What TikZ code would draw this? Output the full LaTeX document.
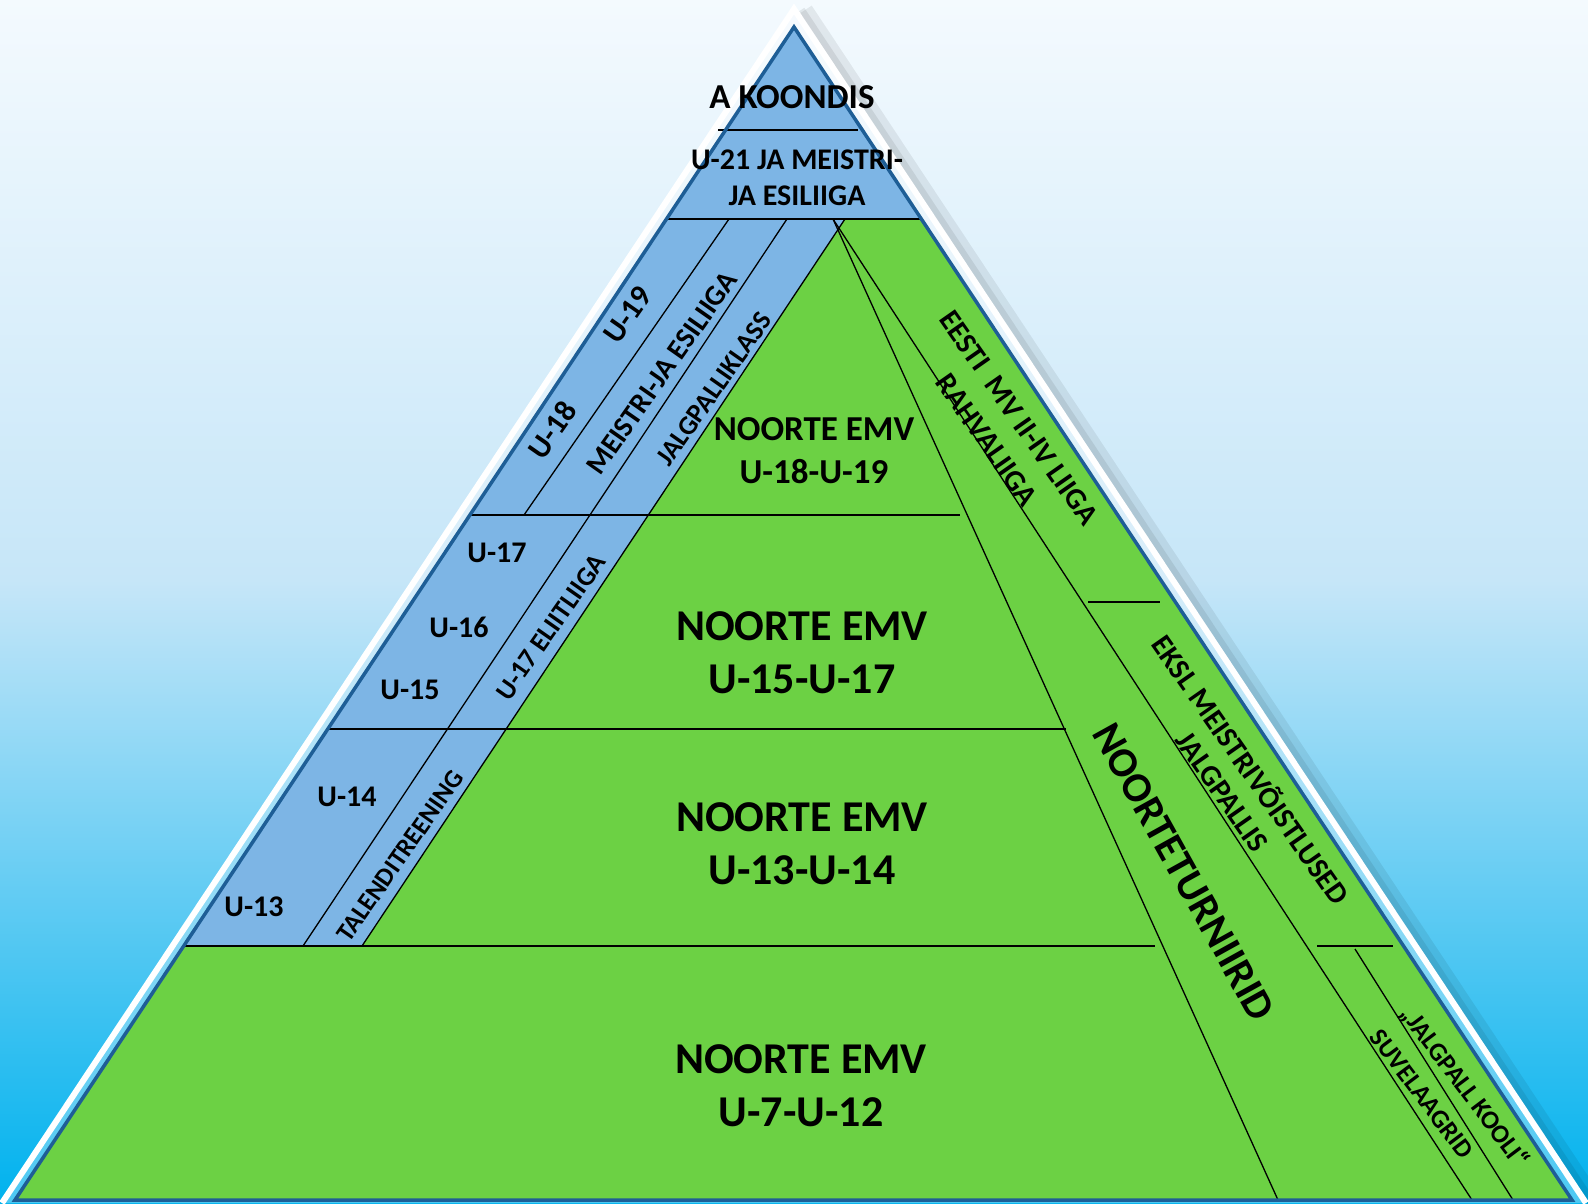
\documentclass[tikz,border=0pt]{standalone}
\usepackage{fontspec}
\setmainfont{Carlito}
\usepackage{tikz}

\definecolor{nentren}{RGB}{244,250,254}
\definecolor{nengiua}{RGB}{198,230,248}
\definecolor{nenduoi}{RGB}{120,200,242}
\definecolor{nenday}{RGB}{0,178,238}
\definecolor{xanhlam}{RGB}{125,181,229}
\definecolor{xanhla}{RGB}{108,209,68}
\definecolor{vienxanh}{RGB}{30,94,150}

\begin{document}
\begin{tikzpicture}[
    x=1pt, y=-1pt,
    every node/.style={inner sep=0pt, align=center},
    vach/.style={black, line width=1.3pt},
    chu/.style={font=\bfseries\fontsize{30}{36}\selectfont},
    chunho/.style={font=\bfseries\fontsize{27}{32}\selectfont},
    chuvua/.style={font=\bfseries\fontsize{35}{43}\selectfont},
    chulon/.style={font=\bfseries\fontsize{44}{53}\selectfont}
]
\useasboundingbox (0,0) rectangle (1588,1203);
\clip (0,0) rectangle (1588,1203);

% Nền chuyển màu
\shade[top color=nentren, bottom color=nengiua] (0,0) rectangle (1588,581);
\shade[top color=nengiua, middle color=nenduoi, bottom color=nenday] (0,580) rectangle (1588,1203);

% Viền trắng và bóng
\fill[white, opacity=0.3] (794,9) -- (2,1203) -- (1586,1203) -- cycle;
\draw[black, opacity=0.07, line width=16pt] (805,10) -- (1597,1204);
\draw[black, opacity=0.08, line width=8pt] (801,10) -- (1593,1204);
\draw[white, line width=6pt] (2,1203) -- (794,9) -- (1586,1203);

% Các khối màu
\fill[xanhlam] (794,27) -- (921.4,219) -- (845,219) -- (362,946) -- (184,946) -- cycle;
\fill[xanhla] (845,219) -- (921.4,219) -- (1572,1200) -- (15,1200) -- (184,946) -- (362,946) -- cycle;

% Các đường ngang
\draw[vach] (718,130) -- (858,130);
\draw[vach] (666.6,219) -- (921.4,219);
\draw[vach] (470,515) -- (960,515);
\draw[vach] (328,729) -- (1066,729);
\draw[vach] (184,946) -- (1155,946);
\draw[vach] (1088,602) -- (1160,602);
\draw[vach] (1317,946) -- (1393,946);

% Các đường xiên
\draw[vach] (729,219) -- (524,515);
\draw[vach] (787,219) -- (303,946);
\draw[vach] (845,219) -- (362,946);
\draw[vach] (833,219) -- (1278,1200);
\draw[vach] (833,219) -- (1472,1200);
\draw[vach] (1355,949) -- (1513,1200);

% Viền tam giác
\draw[vienxanh, line width=3.5pt] (794,27) -- (1572,1200) -- (15,1200) -- cycle;

% Đỉnh
\node[chuvua] (koondis) at (792,97) {A KOONDIS};
\node[chu] (u21) at (797,178) {U-21 JA MEISTRI-\\JA ESILIIGA};

% Dải xanh lam bên trái
\node[chu, font=\bfseries\fontsize{31}{36}\selectfont, rotate=55] (u19) at (628,315) {U-19};
\node[chu, font=\bfseries\fontsize{31}{36}\selectfont, rotate=55] (u18) at (552,430) {U-18};
\node[chu, font=\bfseries\fontsize{29}{34}\selectfont, rotate=55] (meistri) at (662,373) {MEISTRI-JA ESILIIGA};
\node[chunho, rotate=55] (klass) at (714,389) {JALGPALLIKLASS};
\node[chu] (u17) at (497,553) {U-17};
\node[chu] (u16) at (459,627) {U-16};
\node[chu] (u15) at (410,690) {U-15};
\node[chunho, rotate=55] (eliit) at (551,627) {U-17 ELIITLIIGA};
\node[chu] (u14) at (347,797) {U-14};
\node[chu] (u13) at (254,907) {U-13};
\node[chunho, font=\bfseries\fontsize{26}{30}\selectfont, rotate=55] (talent) at (400,856) {TALENDITREENING};

% Giữa
\node[chuvua] (emv1) at (814,451) {NOORTE EMV\\U-18-U-19};
\node[chulon] (emv2) at (802,653) {NOORTE EMV\\U-15-U-17};
\node[chulon] (emv3) at (802,844) {NOORTE EMV\\U-13-U-14};
\node[chulon] (emv4) at (801,1086) {NOORTE EMV\\U-7-U-12};

% Bên phải
\node[chu, rotate=-55] (eesti) at (1019,418) {EESTI\ \ MV II-IV LIIGA};
\node[chu, rotate=-55] (rahva) at (987,440) {RAHVALIIGA};
\node[chu, rotate=-55] (eksl) at (1252,769) {EKSL MEISTRIVÕISTLUSED};
\node[chu, rotate=-55] (jalg) at (1222,792) {JALGPALLIS};
\node[chu, font=\bfseries\fontsize{42}{48}\selectfont, rotate=-61] (turniir) at (1184,872) {NOORTETURNIIRID};
\node[chunho, font=\bfseries\fontsize{26}{30}\selectfont, rotate=-53] (kool) at (1464,1087) {„JALGPALL KOOLI“};
\node[chunho, font=\bfseries\fontsize{26}{30}\selectfont, rotate=-53] (suve) at (1422,1094) {SUVELAAGRID};
\end{tikzpicture}
\end{document}
